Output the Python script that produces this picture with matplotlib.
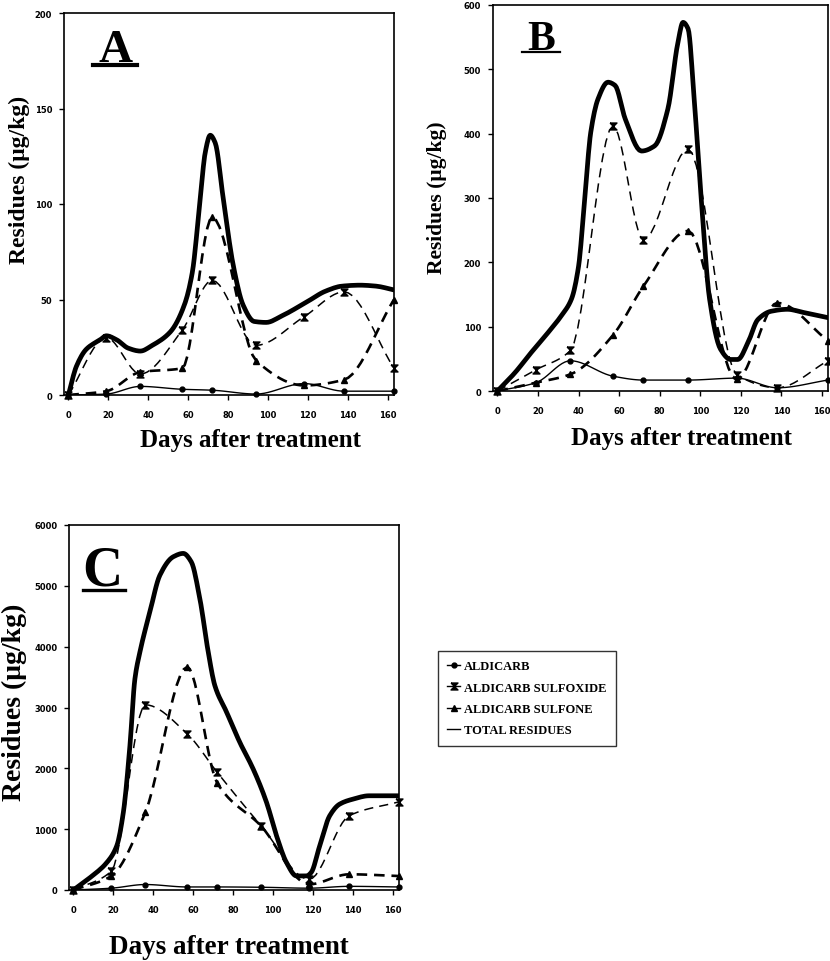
import numpy as np
import matplotlib
matplotlib.use("Agg")
import matplotlib.pyplot as plt
from matplotlib.path import Path
from matplotlib.lines import Line2D

# sampling days (same for the three panels)
days = [0, 19, 36, 57, 72, 94, 118, 138, 163]

# A
a_ald = [0, 0.5, 4.5, 3, 2.5, 0.5, 6, 2, 2]
a_sox = [0, 30, 11, 34, 60, 26, 41, 54, 14]
a_son = [0, 2, 12, 14, 93, 18, 5, 8, 50]
a_tot_d = [0, 4, 9, 16, 19, 24, 30, 36, 42, 51, 58, 62, 66, 68.5, 71, 73.5, 77.5,
           82.5, 87.5, 93, 99, 107, 119, 129, 137, 146, 154, 163]
a_tot = [0, 15, 24, 29, 31, 29, 24.5, 23, 26, 33, 47, 64, 103, 127, 136, 132, 103,
         68, 47, 38.5, 38, 41.5, 48.5, 54.5, 57, 57.5, 57, 55]

# B
b_ald = [0, 13, 47, 23, 17, 17, 20, 5, 17]
b_sox = [0, 33, 63, 412, 235, 376, 25, 5, 47]
b_son = [0, 13, 26, 87, 163, 249, 18, 137, 78]
b_tot_d = [0, 8.5, 16.7, 25, 31.5, 36.5, 40, 43, 46, 49.6, 54.5, 58, 63, 71, 77.5,
           84, 89, 91.5, 94, 97, 100.5, 104.6, 110, 115, 118.5, 123.5, 128.4, 135,
           143, 151, 163]
b_tot = [0, 28, 60, 91, 117, 143, 194, 298, 402, 454, 480, 475, 423, 373, 381,
         438, 542, 573, 563, 454, 298, 143, 65, 49, 49, 75, 111, 124, 127, 122, 114]

# C
c_ald = [0, 30, 90, 50, 50, 45, 30, 60, 50]
c_sox = [0, 310, 3044, 2566, 1934, 1055, 176, 1220, 1450]
c_son = [0, 230, 1275, 3665, 1758, 1050, 93, 258, 230]
c_tot_d = [0, 8.3, 16.7, 21.7, 25, 28.3, 30.8, 33.3, 38.3, 43.3, 50, 55, 59, 63.3,
           67.5, 70.8, 76.7, 83.3, 90, 96.7, 101.7, 106.7, 111.7, 116.7, 119, 123.3,
           128.3, 133.3, 140, 148, 163]
c_tot = [0, 203, 450, 725, 1275, 2373, 3472, 3912, 4571, 5175, 5478, 5533, 5395,
         4790, 3912, 3362, 2923, 2428, 1989, 1439, 890, 450, 231, 231, 286, 725,
         1220, 1412, 1494, 1549, 1549]

names = ["ALDICARB", "ALDICARB SULFOXIDE", "ALDICARB SULFONE", "TOTAL RESIDUES"]

serif = "Liberation Serif"
tickfont = "DejaVu Sans"

# hourglass marker for the sulfoxide
hourglass = Path([(-1, 1), (1, 1), (-1, -1), (1, -1), (-1, 1)])


def smooth(x, y, n=12):
    # monotone cubic curve through the points (no overshoot), only for the line look
    x = np.asarray(x, float)
    y = np.asarray(y, float)
    h = np.diff(x)
    d = np.diff(y) / h
    m = np.zeros_like(y)
    m[0], m[-1] = d[0], d[-1]
    for k in range(1, len(x) - 1):
        if d[k - 1] * d[k] > 0:
            w1 = 2 * h[k] + h[k - 1]
            w2 = h[k] + 2 * h[k - 1]
            m[k] = (w1 + w2) / (w1 / d[k - 1] + w2 / d[k])
    xs, ys = [], []
    t = np.linspace(0, 1, n, endpoint=False)
    for i in range(len(x) - 1):
        hi = h[i]
        h00 = 2 * t**3 - 3 * t**2 + 1
        h10 = t**3 - 2 * t**2 + t
        h01 = -2 * t**3 + 3 * t**2
        h11 = t**3 - t**2
        xs.append(x[i] + t * hi)
        ys.append(h00 * y[i] + h10 * hi * m[i] + h01 * y[i + 1] + h11 * hi * m[i + 1])
    xs.append([x[-1]])
    ys.append([y[-1]])
    return np.concatenate(xs), np.concatenate(ys)


def panel(ax, ald, sox, son, tot_d, tot, ymax, ystep):
    sx, sy = smooth(days, ald)
    ax.plot(sx, sy, color="k", lw=1.0)
    ax.plot(days, ald, ls="none", marker="o", ms=3.5, color="k", clip_on=False)

    sx, sy = smooth(days, sox)
    ax.plot(sx, sy, color="k", lw=1.1, dashes=(6, 4))
    ax.plot(days, sox, ls="none", marker=hourglass, ms=5, color="k", clip_on=False)

    sx, sy = smooth(days, son)
    ax.plot(sx, sy, color="k", lw=1.9, dashes=(4, 2.6))
    ax.plot(days, son, ls="none", marker="^", ms=5, color="k", clip_on=False)

    sx, sy = smooth(tot_d, tot, n=8)
    ax.plot(sx, sy, color="k", lw=3.4, solid_capstyle="round")

    ax.set_xlim(-2.2, 163)
    ax.set_ylim(0, ymax)
    ax.set_xticks(range(0, 161, 20))
    ax.set_yticks(np.arange(0, ymax + 1, ystep))
    ax.tick_params(direction="out", length=3.5, width=1, labelsize=6,
                   top=False, right=False)
    ax.tick_params(axis="x", pad=7)
    ax.tick_params(axis="y", pad=5)
    for lab in ax.get_xticklabels() + ax.get_yticklabels():
        lab.set_fontfamily(tickfont)
        lab.set_fontweight("bold")
    for sp in ax.spines.values():
        sp.set_linewidth(1.2)


def letter(ax, s, x, y, size, ux0, ux1, uy, ulw):
    ax.text(x, y, s, transform=ax.transAxes, ha="center", va="baseline",
            fontsize=size, fontweight="bold", family=serif)
    ax.plot([ux0, ux1], [uy, uy], transform=ax.transAxes, color="k", lw=ulw,
            clip_on=False)


W, H = 830, 962
fig = plt.figure(figsize=(W / 100, H / 100), dpi=100)

axA = fig.add_axes([64 / W, 1 - 396 / H, 330 / W, 382 / H])
axB = fig.add_axes([493 / W, 1 - 392 / H, 335 / W, 386 / H])
axC = fig.add_axes([69 / W, 1 - 891 / H, 330 / W, 365 / H])

panel(axA, a_ald, a_sox, a_son, a_tot_d, a_tot, 200, 50)
panel(axB, b_ald, b_sox, b_son, b_tot_d, b_tot, 600, 100)
panel(axC, c_ald, c_sox, c_son, c_tot_d, c_tot, 6000, 1000)

letter(axA, "A", 0.155, 0.874, 34, 0.088, 0.221, 0.864, 3.0)
letter(axB, "B", 0.143, 0.886, 30, 0.087, 0.200, 0.878, 1.6)
letter(axC, "C", 0.101, 0.836, 40, 0.043, 0.171, 0.822, 2.4)

# axis titles
ylab = "Residues (\u03bcg/kg)"
xlab = "Days after treatment"
fig.text(19 / W, 1 - 180 / H, ylab, rotation=90, ha="center", va="center",
         fontsize=17, fontweight="bold", family=serif)
fig.text(437 / W, 1 - 198 / H, ylab, rotation=90, ha="center", va="center",
         fontsize=15.5, fontweight="bold", family=serif)
fig.text(14 / W, 1 - 702 / H, ylab, rotation=90, ha="center", va="center",
         fontsize=20, fontweight="bold", family=serif)
fig.text(250 / W, 1 - 441 / H, xlab, ha="center", va="center",
         fontsize=18, fontweight="bold", family=serif)
fig.text(681 / W, 1 - 439 / H, xlab, ha="center", va="center",
         fontsize=18, fontweight="bold", family=serif)
fig.text(229 / W, 1 - 948 / H, xlab, ha="center", va="center",
         fontsize=19.5, fontweight="bold", family=serif)

# legend
handles = [
    Line2D([], [], color="k", lw=1.0, marker="o", ms=3.5),
    Line2D([], [], color="k", lw=1.0, marker=hourglass, ms=5),
    Line2D([], [], color="k", lw=1.0, marker="^", ms=5),
    Line2D([], [], color="k", lw=1.0),
]
leg = fig.legend(handles, names, loc="upper left",
                 bbox_to_anchor=(438 / W, 1 - 652 / H), borderaxespad=0,
                 frameon=True, fancybox=False, edgecolor="k", handlelength=1.0,
                 handletextpad=0.35, labelspacing=0.75, borderpad=0.75,
                 prop={"family": serif, "weight": "bold", "size": 9})
leg.get_frame().set_linewidth(1.0)

fig.savefig("out.png", dpi=100)
